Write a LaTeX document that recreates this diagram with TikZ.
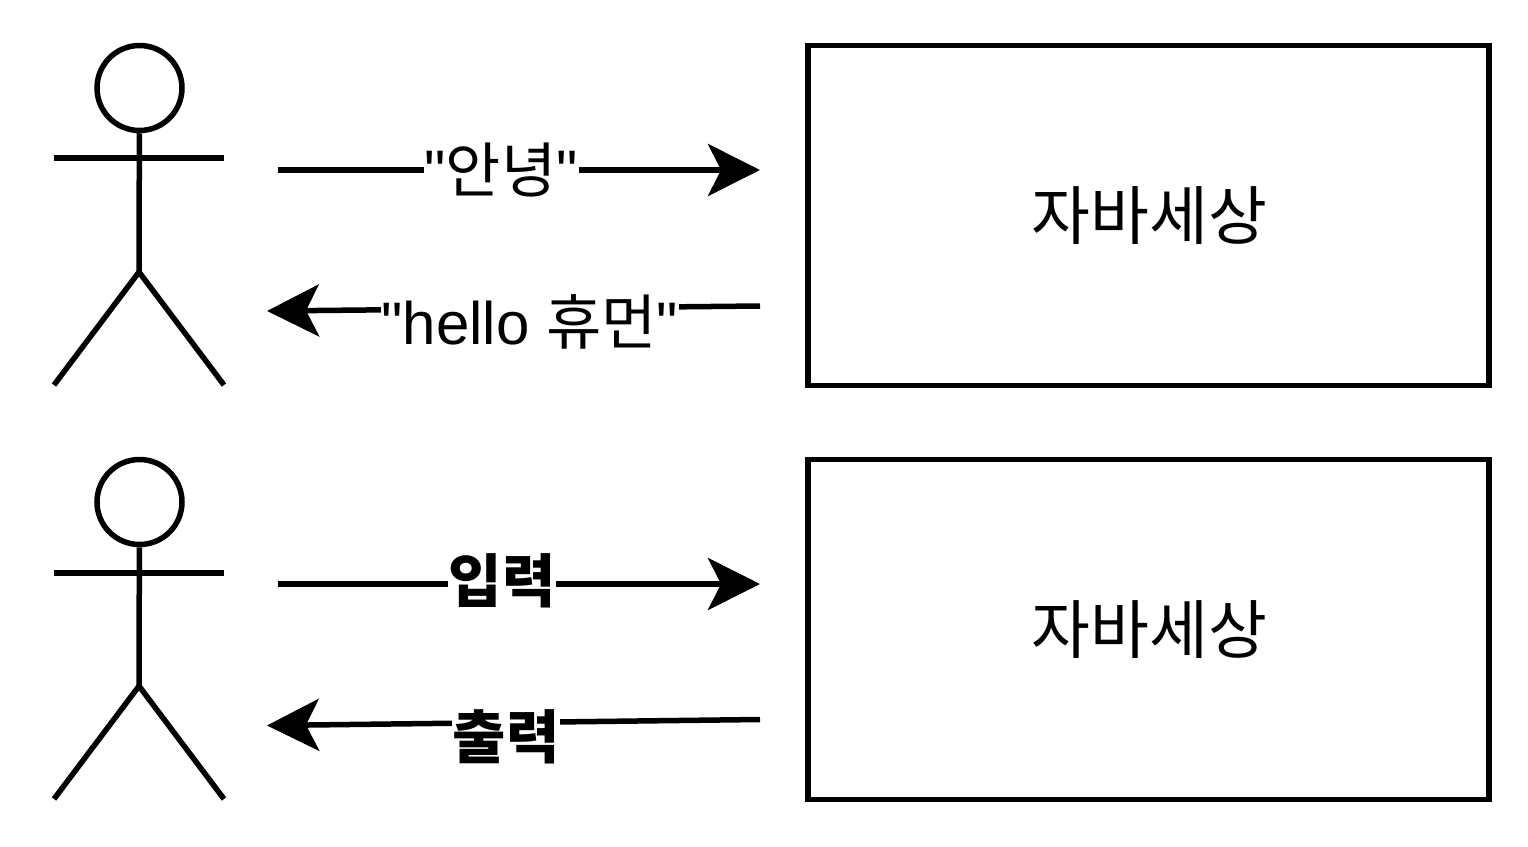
\documentclass[tikz,border=0pt]{standalone}
\usepackage{fontspec}
\newfontfamily\latn{Liberation Sans}
\newfontfamily\cjk{Noto Sans CJK KR}
\usetikzlibrary{arrows.meta}
\tikzset{
  line/.style={line width=5.5pt},
  msg/.style={line width=5.5pt,-{Stealth[length=52pt,width=52pt,inset=13pt]}},
  lbl/.style={fill=white,inner sep=1pt,font=\latn\fontsize{60}{60}\selectfont},
  boldlbl/.style={lbl,font=\cjk\bfseries\fontsize{58}{58}\selectfont},
  sys/.style={draw,line width=5.2pt,minimum width=681pt,minimum height=340pt,inner sep=0pt,font=\cjk\fontsize{64}{64}\selectfont},
  head/.style={circle,draw,line width=5.5pt,minimum size=85pt,inner sep=0pt}
}
\begin{document}
\begin{tikzpicture}[x=1pt,y=-1pt]
\useasboundingbox (0,0) rectangle (1528,846);
% Actor 1
\node[head] (H1) at (139.5,88) {};
\coordinate (N1) at (139,272);
\coordinate (AL1) at (54,158);
\coordinate (AR1) at (224,158);
\coordinate (FL1) at (54,385);
\coordinate (FR1) at (224,385);
\draw[line] (H1) -- (N1);
\draw[line] (AL1) -- (AR1);
\draw[line] (FL1) -- (N1) -- (FR1);
% Actor 2
\node[head] (H2) at (139.5,502) {};
\coordinate (N2) at (139,686);
\coordinate (AL2) at (54,573);
\coordinate (AR2) at (224,573);
\coordinate (FL2) at (54,799);
\coordinate (FR2) at (224,799);
\draw[line] (H2) -- (N2);
\draw[line] (AL2) -- (AR2);
\draw[line] (FL2) -- (N2) -- (FR2);
% Systems
\node[sys] (S1) at (1148.5,215.5) {\hspace{2pt}자바세상};
\node[sys] (S2) at (1148.5,629.5) {\hspace{2pt}자바세상};
% Messages
\coordinate (A) at (278,170);
\coordinate (B) at (760,170);
\coordinate (C) at (760,306);
\coordinate (D) at (267,311);
\coordinate (E) at (278,584);
\coordinate (F) at (760,584);
\coordinate (G) at (760,719.5);
\coordinate (I) at (267,725.5);
\draw[msg] (A) -- node[lbl,pos=.463,yshift=0pt] {"{\cjk 안녕}"} (B);
\draw[msg] (C) -- node[lbl,pos=.467,yshift=-14pt] {"hello {\cjk 휴먼}"} (D);
\draw[msg] (E) -- node[boldlbl,pos=.465,yshift=3pt] {입력} (F);
\draw[msg] (G) -- node[boldlbl,pos=.515,yshift=-14pt] {출력} (I);
\end{tikzpicture}
\end{document}
